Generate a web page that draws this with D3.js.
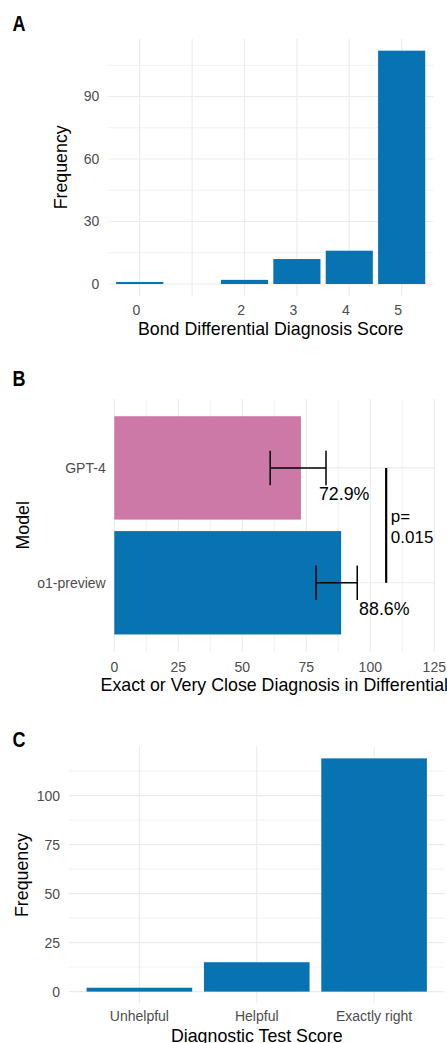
<!DOCTYPE html>
<html lang="en">
<head>
<meta charset="utf-8">
<title>Diagnosis scores</title>
<script src="https://d3js.org/d3.v7.min.js"></script>
<style>
  body { margin: 0; background: #fff; }
  text { font-family: "Liberation Sans", Arial, sans-serif; }
  .tick-label { font-size: 14px; fill: #4d4d4d; }
  .title { font-size: 17.8px; fill: #000; }
  .panel-tag { font-weight: bold; font-size: 22px; }
  .grid { stroke: #ebebeb; fill: none; }
</style>
</head>
<body>
<script>
// panel A: bond differential diagnosis score
const scoreCats = [0, 1, 2, 3, 4, 5];
const scoreTickLabels = [0, 2, 3, 4, 5];
const scoreFreq = [1, 0, 2, 12, 16, 112];
const scoreYTicks = [0, 30, 60, 90];
const scoreYMinor = [15, 45, 75, 105];

// panel B: exact or very close diagnosis in differential
const models = ["GPT-4", "o1-preview"];
const modelPct = [72.9, 88.6];
const modelLow = [60.9, 78.8];
const modelHigh = [82.7, 94.9];
const modelXTicks = [0, 25, 50, 75, 100, 125];
const modelXMinor = [12.5, 37.5, 62.5, 87.5, 112.5];
const pValueText = ["p=", "0.015"];
const pValueAt = 106.2;

// panel C: diagnostic test score
const testCats = ["Unhelpful", "Helpful", "Exactly right"];
const testFreq = [2, 15, 119];
const testYTicks = [0, 25, 50, 75, 100];
const testYMinor = [12.5, 37.5, 62.5, 87.5, 112.5];

const blue = "#0873b3";
const pink = "#cc79a7";

const w = 447, h = 1043;
const svg = d3.select("body").append("svg")
  .attr("width", w)
  .attr("height", h);

// condensed bold panel letter (no narrow font installed, so squeeze it)
function tag(letter, y) {
  svg.append("text").attr("class", "panel-tag")
    .attr("transform", "translate(12.5," + y + ") scale(0.82,1)")
    .text(letter);
}

// ---------- A ----------
(function () {
  const top = 39, bottom = 295.7;
  const x = d3.scaleBand().domain(scoreCats).range([108.3, 433.1])
    .paddingInner(0.1).paddingOuter(0.15);
  const y = d3.scaleLinear().domain([-5.6, 117.6]).range([bottom, top]);
  const g = svg.append("g");

  g.selectAll(".ymin").data(scoreYMinor).join("line").attr("class", "grid")
    .attr("x1", 108.3).attr("x2", 433.1)
    .attr("y1", d => y(d)).attr("y2", d => y(d)).attr("stroke-width", 0.7);
  g.selectAll(".ymaj").data(scoreYTicks).join("line").attr("class", "grid")
    .attr("x1", 108.3).attr("x2", 433.1)
    .attr("y1", d => y(d)).attr("y2", d => y(d)).attr("stroke-width", 1.1);
  g.selectAll(".xmaj").data(scoreCats).join("line").attr("class", "grid")
    .attr("x1", d => x(d) + x.bandwidth() / 2).attr("x2", d => x(d) + x.bandwidth() / 2)
    .attr("y1", top).attr("y2", bottom).attr("stroke-width", 1.1);

  g.selectAll("rect").data(scoreCats).join("rect")
    .attr("x", d => x(d))
    .attr("width", x.bandwidth())
    .attr("y", (d, i) => y(scoreFreq[i]))
    .attr("height", (d, i) => y(0) - y(scoreFreq[i]))
    .attr("fill", blue);

  g.selectAll(".yl").data(scoreYTicks).join("text").attr("class", "tick-label")
    .attr("x", 99.3).attr("y", d => y(d)).attr("dy", "0.35em")
    .attr("text-anchor", "end").text(d => d);
  g.selectAll(".xl").data(scoreTickLabels).join("text").attr("class", "tick-label")
    .attr("x", d => x(d) + x.bandwidth() / 2 + 0.5).attr("y", 315)
    .attr("text-anchor", "end").text(d => d);

  g.append("text").attr("class", "title")
    .attr("x", (108.3 + 433.1) / 2).attr("y", 335.3)
    .attr("text-anchor", "middle").text("Bond Differential Diagnosis Score");
  g.append("text").attr("class", "title")
    .attr("transform", "translate(67," + (top + bottom) / 2 + ") rotate(-90)")
    .attr("text-anchor", "middle").text("Frequency");
  tag("A", 30.7);
})();

// ---------- B ----------
(function () {
  const top = 399, bottom = 651.7, left = 114.3, right = 434.3;
  const x = d3.scaleLinear().domain([0, 125]).range([left, right]);
  const y = d3.scaleBand().domain(models).range([top, bottom])
    .paddingInner(0.1).paddingOuter(0.15);
  const cy = d => y(d) + y.bandwidth() / 2;
  const g = svg.append("g");

  g.selectAll(".xmin").data(modelXMinor).join("line").attr("class", "grid")
    .attr("x1", d => x(d)).attr("x2", d => x(d))
    .attr("y1", top).attr("y2", bottom).attr("stroke-width", 0.7);
  g.selectAll(".xmaj").data(modelXTicks).join("line").attr("class", "grid")
    .attr("x1", d => x(d)).attr("x2", d => x(d))
    .attr("y1", top).attr("y2", bottom).attr("stroke-width", 1.1);
  g.selectAll(".ymaj").data(models).join("line").attr("class", "grid")
    .attr("x1", left).attr("x2", right)
    .attr("y1", cy).attr("y2", cy).attr("stroke-width", 1.1);

  g.selectAll("rect").data(models).join("rect")
    .attr("x", x(0))
    .attr("y", d => y(d))
    .attr("width", (d, i) => x(modelPct[i]) - x(0))
    .attr("height", y.bandwidth())
    .attr("fill", (d, i) => i === 0 ? pink : blue);

  // error bars
  const capH = y.step() * 0.15;
  models.forEach((m, i) => {
    const c = cy(m);
    g.append("line").attr("x1", x(modelLow[i])).attr("x2", x(modelHigh[i]))
      .attr("y1", c).attr("y2", c).attr("stroke", "#000").attr("stroke-width", 1.5);
    [modelLow[i], modelHigh[i]].forEach(v => {
      g.append("line").attr("x1", x(v)).attr("x2", x(v))
        .attr("y1", c - capH).attr("y2", c + capH)
        .attr("stroke", "#000").attr("stroke-width", 1.5);
    });
    g.append("text").attr("class", "title")
      .attr("x", x(modelPct[i]) + 18).attr("y", c + 32)
      .text(modelPct[i].toFixed(1) + "%");
  });

  // p-value bracket
  g.append("line").attr("x1", x(pValueAt)).attr("x2", x(pValueAt))
    .attr("y1", cy(models[0])).attr("y2", cy(models[1]))
    .attr("stroke", "#000").attr("stroke-width", 2.2);
  g.selectAll(".pv").data(pValueText).join("text").attr("class", "title")
    .attr("x", x(pValueAt) + 4.7).attr("y", (d, i) => 521.5 + i * 21.3)
    .style("font-size", "17px").text(d => d);

  g.selectAll(".yl").data(models).join("text").attr("class", "tick-label")
    .attr("x", left - 8.6).attr("y", cy).attr("dy", "0.35em")
    .attr("text-anchor", "end").text(d => d);
  g.selectAll(".xl").data(modelXTicks).join("text").attr("class", "tick-label")
    .attr("x", d => x(d)).attr("y", 671.7)
    .attr("text-anchor", "middle").text(d => d);

  g.append("text").attr("class", "title")
    .attr("x", (left + right) / 2).attr("y", 690.5)
    .attr("text-anchor", "middle").text("Exact or Very Close Diagnosis in Differential");
  g.append("text").attr("class", "title")
    .attr("transform", "translate(28.5," + (top + bottom) / 2 + ") rotate(-90)")
    .attr("text-anchor", "middle").text("Model");
  tag("B", 385.5);
})();

// ---------- C ----------
(function () {
  const top = 746.7, bottom = 1003.3, left = 69, right = 444.5;
  const x = d3.scaleBand().domain(testCats).range([left, right])
    .paddingInner(0.1).paddingOuter(0.15);
  const y = d3.scaleLinear().domain([-5.95, 124.95]).range([bottom, top]);
  const g = svg.append("g");

  g.selectAll(".ymin").data(testYMinor).join("line").attr("class", "grid")
    .attr("x1", left).attr("x2", right)
    .attr("y1", d => y(d)).attr("y2", d => y(d)).attr("stroke-width", 0.7);
  g.selectAll(".ymaj").data(testYTicks).join("line").attr("class", "grid")
    .attr("x1", left).attr("x2", right)
    .attr("y1", d => y(d)).attr("y2", d => y(d)).attr("stroke-width", 1.1);
  g.selectAll(".xmaj").data(testCats).join("line").attr("class", "grid")
    .attr("x1", d => x(d) + x.bandwidth() / 2).attr("x2", d => x(d) + x.bandwidth() / 2)
    .attr("y1", top).attr("y2", bottom).attr("stroke-width", 1.1);

  g.selectAll("rect").data(testCats).join("rect")
    .attr("x", d => x(d))
    .attr("width", x.bandwidth())
    .attr("y", (d, i) => y(testFreq[i]))
    .attr("height", (d, i) => y(0) - y(testFreq[i]))
    .attr("fill", blue);

  g.selectAll(".yl").data(testYTicks).join("text").attr("class", "tick-label")
    .attr("x", left - 9).attr("y", d => y(d)).attr("dy", "0.35em")
    .attr("text-anchor", "end").text(d => d);
  g.selectAll(".xl").data(testCats).join("text").attr("class", "tick-label")
    .attr("x", d => x(d) + x.bandwidth() / 2).attr("y", 1020.7)
    .attr("text-anchor", "middle").text(d => d);

  g.append("text").attr("class", "title")
    .attr("x", (left + right) / 2).attr("y", 1041.6)
    .attr("text-anchor", "middle").text("Diagnostic Test Score");
  g.append("text").attr("class", "title")
    .attr("transform", "translate(28," + (top + bottom) / 2 + ") rotate(-90)")
    .attr("text-anchor", "middle").text("Frequency");
  tag("C", 747);
})();
</script>
</body>
</html>
